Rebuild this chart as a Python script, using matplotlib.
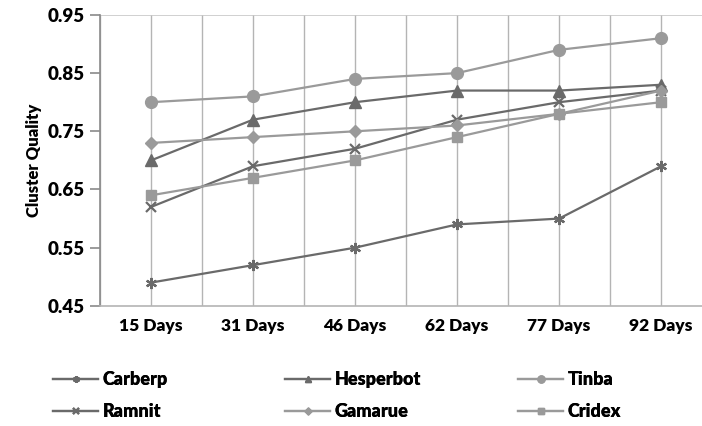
import numpy as np
import matplotlib
matplotlib.use("Agg")
import matplotlib.pyplot as plt

plt.rcParams['font.family'] = ['Lato', 'DejaVu Sans']

days = ['15 Days', '31 Days', '46 Days', '62 Days', '77 Days', '92 Days']
carberp = [0.49, 0.52, 0.55, 0.59, 0.60, 0.69]
ramnit = [0.62, 0.69, 0.72, 0.77, 0.80, 0.82]
hesperbot = [0.70, 0.77, 0.80, 0.82, 0.82, 0.83]
gamarue = [0.73, 0.74, 0.75, 0.76, 0.78, 0.82]
tinba = [0.80, 0.81, 0.84, 0.85, 0.89, 0.91]
cridex = [0.64, 0.67, 0.70, 0.74, 0.78, 0.80]
yticks = [0.45, 0.55, 0.65, 0.75, 0.85, 0.95]

dark = '#6a6a6a'
light = '#9a9a9a'
wt = 'heavy'

fig = plt.figure(figsize=(7.02, 4.26), dpi=100)
# axes run slightly past the right edge, as in the cropped original
ax = fig.add_axes([0.1425, 0.282, 0.872, 0.683])

x = np.arange(len(days))
for xv in np.arange(-0.5, 6.0, 0.5):
    ax.axvline(xv, color='#b4b4b4', lw=1.0, zorder=0)
ax.axhline(0.95, color='#c8c8c8', lw=1.2, zorder=0)

l1, = ax.plot(x, carberp, color=dark, lw=1.6, marker=(6, 2, 0), ms=8, mew=1.6)
l2, = ax.plot(x, ramnit, color=dark, lw=1.6, marker='x', ms=7.5, mew=1.6)
l3, = ax.plot(x, hesperbot, color=dark, lw=1.6, marker='^', ms=8)
l4, = ax.plot(x, gamarue, color=light, lw=1.6, marker='D', ms=6)
l5, = ax.plot(x, tinba, color=light, lw=1.6, marker='o', ms=8.5)
l6, = ax.plot(x, cridex, color=light, lw=1.6, marker='s', ms=7.5)

ax.set_xlim(-0.5, 5.5)
ax.set_ylim(0.45, 0.95)
ax.set_xticks(x)
ax.set_xticklabels(days, fontsize=12.5, fontweight=wt)
ax.set_yticks(yticks)
ax.set_yticklabels(['%.2f' % v for v in yticks], fontsize=13.5, fontweight=wt)
ax.tick_params(axis='x', length=0, pad=9)
ax.tick_params(axis='y', length=7, color='#8a8a8a', width=1.2, pad=4)
ax.set_ylabel('Cluster Quality', fontsize=12, fontweight=wt, labelpad=4)

for s in ['top', 'right']:
    ax.spines[s].set_visible(False)
ax.spines['left'].set_color('#8a8a8a')
ax.spines['left'].set_linewidth(1.2)
ax.spines['bottom'].set_color('#b4b4b4')
ax.spines['bottom'].set_linewidth(1.2)

# three little legends, two rows each
groups = [([l1, l2], ['Carberp', 'Ramnit'], 53),
          ([l3, l4], ['Hesperbot', 'Gamarue'], 285),
          ([l5, l6], ['Tinba', 'Cridex'], 518)]
for hs, labs, xpx in groups:
    leg = fig.legend(hs, labs, loc='upper left',
                     bbox_to_anchor=(xpx / 702, 1 - 371 / 426),
                     frameon=False, borderpad=0, borderaxespad=0,
                     handlelength=2.5, handletextpad=0.25, labelspacing=0.85,
                     markerscale=0.6, prop={'weight': wt, 'size': 13})
    fig.add_artist(leg)

fig.savefig('out.png', dpi=100)
